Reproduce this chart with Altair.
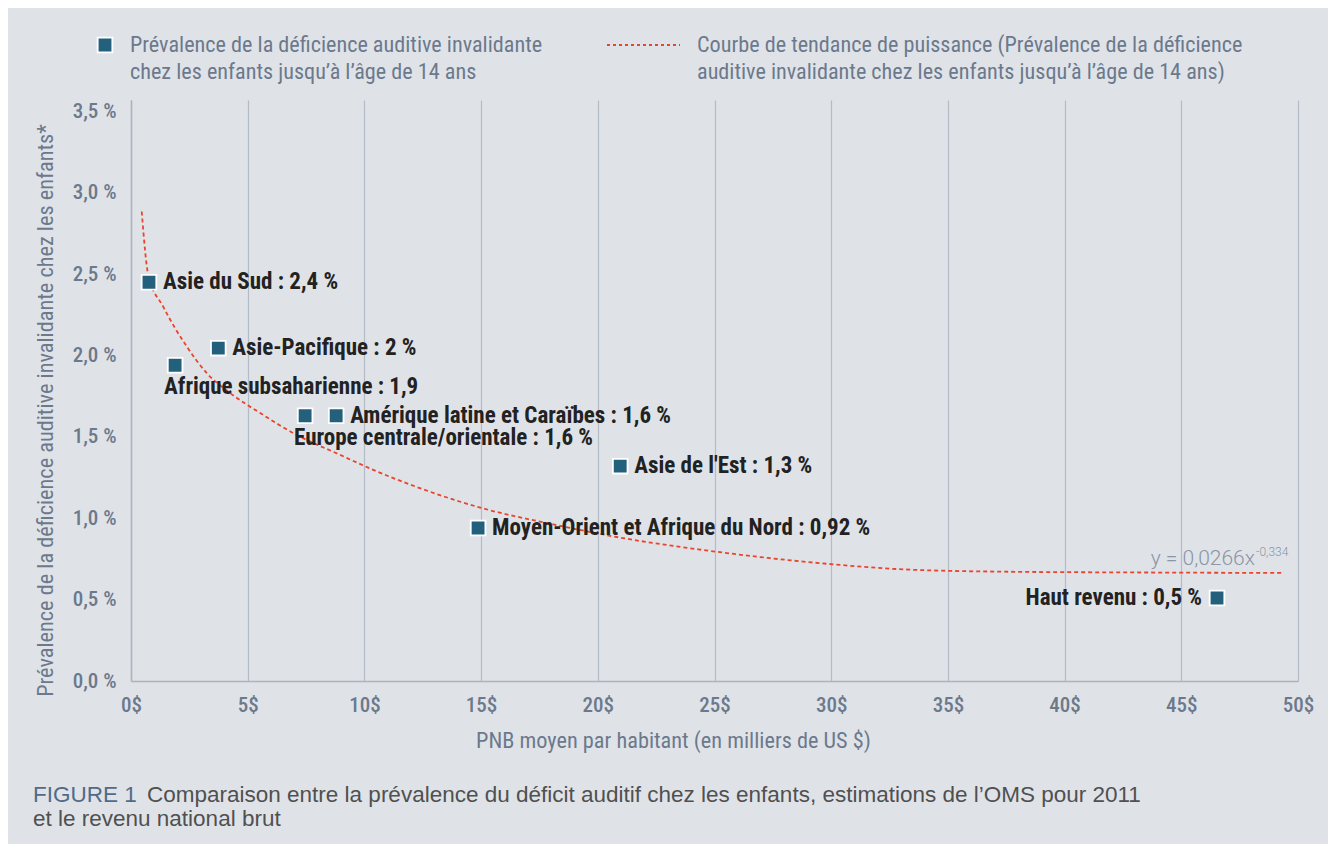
import altair as alt
import pandas as pd

# ---------------- data ----------------
regions = ["Asie du Sud", "Afrique subsaharienne", "Asie-Pacifique",
           "Europe centrale/orientale", "Amérique latine et Caraïbes",
           "Moyen-Orient et Afrique du Nord", "Asie de l'Est", "Haut revenu"]
gnp = [0.77, 1.89, 3.74, 7.46, 8.79, 14.87, 20.96, 46.53]
prevalence = [2.45, 1.94, 2.045, 1.63, 1.63, 0.94, 1.32, 0.51]
labels = ["Asie du Sud : 2,4 %", "Afrique subsaharienne : 1,9", "Asie-Pacifique : 2 %",
          "Europe centrale/orientale : 1,6 %", "Amérique latine et Caraïbes : 1,6 %",
          "Moyen-Orient et Afrique du Nord : 0,92 %", "Asie de l'Est : 1,3 %",
          "Haut revenu : 0,5 %"]

# power trend curve
trend_x = [0.46, 0.74, 1.38, 2.39, 3.24, 4.24, 5.53, 6.94, 8.95, 10.5, 12.0,
           15.1, 18.1, 21.2, 24.3, 27.3, 30.4, 32.8, 37.2, 43.0, 49.4]
trend_y = [2.885, 2.495, 2.30, 2.055, 1.893, 1.770, 1.647, 1.524, 1.39, 1.29, 1.205,
           1.06, 0.962, 0.875, 0.809, 0.756, 0.713, 0.688, 0.672, 0.667, 0.664]

x_ticks = [0, 5, 10, 15, 20, 25, 30, 35, 40, 45, 50]
y_ticks = [0, 0.5, 1.0, 1.5, 2.0, 2.5, 3.0, 3.5]

legend_points = ["Prévalence de la déficience auditive invalidante",
                 "chez les enfants jusqu’à l’âge de 14 ans"]
legend_trend = ["Courbe de tendance de puissance (Prévalence de la déficience",
                "auditive invalidante chez les enfants jusqu’à l’âge de 14 ans)"]
equation = "y = 0,0266x"
equation_exp = "-0,334"
caption_head = "FIGURE 1"
caption_line1 = "Comparaison entre la prévalence du déficit auditif chez les enfants, estimations de l’OMS pour 2011"
caption_line2 = "et le revenu national brut"
x_title = "PNB moyen par habitant (en milliers de US $)"
y_title = "Prévalence de la déficience auditive invalidante chez les enfants*"

# ---------------- styling ----------------
COND = "Roboto Condensed, DejaVu Sans Condensed, sans-serif"
LIGHT = "Roboto, Liberation Sans, sans-serif"
CAP = "Liberation Sans, Roboto, sans-serif"
BG = "#dfe3e8"
GREY = "#6c798c"
RED = "#e8452c"
TEAL = "#22607c"
DARK = "#222222"

pts = pd.DataFrame({"region": regions, "gnp": gnp, "prev": prevalence, "label": labels})
trend = pd.DataFrame({"gnp": trend_x, "prev": trend_y})
one = pd.DataFrame({"k": [0]})

xs = alt.Scale(domain=[0, 50], nice=False)
ys = alt.Scale(domain=[0, 3.57], nice=False)

X = alt.X("gnp:Q", scale=xs, axis=alt.Axis(
    values=x_ticks, labelExpr="datum.value + '$'", title=x_title,
    grid=True, gridColor="#b3bcc6", gridWidth=1.2, ticks=False, labelFlush=False,
    domainColor="#aab4c0", domainWidth=1.5, labelPadding=13,
    titleX=542, titleY=59, titleAlign="center", titleBaseline="middle"))
Y = alt.Y("prev:Q", scale=ys, axis=alt.Axis(
    values=y_ticks, labelExpr="replace(format(datum.value, '.1f'), '.', ',') + ' %'",
    title=y_title, grid=False, ticks=False, domainColor="#aab4c0", domainWidth=1.5,
    labelPadding=15, labelFlush=False, titleX=-86, titleY=310, titleBaseline="middle"))

line = alt.Chart(trend).mark_line(
    color=RED, strokeDash=[4, 3], strokeWidth=1.8, interpolate="monotone"
).encode(x=alt.X("gnp:Q", scale=xs), y=alt.Y("prev:Q", scale=ys))

points = alt.Chart(pts).mark_point(
    shape="square", filled=True, size=215, fill=TEAL, stroke="white",
    strokeWidth=1.8, opacity=1
).encode(x=X, y=Y)

def lab(names, **kw):
    base = dict(font=COND, fontSize=23, fontWeight="bold", color=DARK, baseline="middle")
    base.update(kw)
    return alt.Chart(pts).transform_filter(
        alt.FieldOneOfPredicate(field="region", oneOf=names)
    ).mark_text(**base).encode(
        x=alt.X("gnp:Q", scale=xs), y=alt.Y("prev:Q", scale=ys), text="label:N")

right_labels = lab(["Asie du Sud", "Asie-Pacifique", "Amérique latine et Caraïbes",
                    "Moyen-Orient et Afrique du Nord", "Asie de l'Est"], align="left", dx=14)
below_labels = lab(["Afrique subsaharienne", "Europe centrale/orientale"],
                   align="left", dx=-11, dy=22)
left_labels = lab(["Haut revenu"], align="right", dx=-15)

def ann(text, x, y, **kw):
    return alt.Chart(one).mark_text(**kw).encode(
        x=alt.value(x), y=alt.value(y), text=alt.value(text))

eq = ann(equation, 1124, 459, font=LIGHT, fontSize=21, fontWeight=300,
         color="#8a95a5", align="right", baseline="middle")
eq_exp = ann(equation_exp, 1125, 452, font=LIGHT, fontSize=12, fontWeight=300,
             color="#8a95a5", align="left", baseline="middle")

leg_sq = alt.Chart(one).mark_point(
    shape="square", filled=True, size=215, fill=TEAL, stroke="white",
    strokeWidth=1.8, opacity=1).encode(x=alt.value(-26), y=alt.value(-55))
leg_t1 = ann(legend_points, -1, -48, font=COND, fontSize=22.2, color=GREY,
             align="left", baseline="alphabetic", lineHeight=27)
leg_line = alt.Chart(one).mark_rule(
    color=RED, strokeDash=[3, 3], strokeWidth=1.8
).encode(x=alt.value(476), x2=alt.value(549), y=alt.value(-55))
leg_t2 = ann(legend_trend, 566, -48, font=COND, fontSize=22.2, color=GREY,
             align="left", baseline="alphabetic", lineHeight=27)

cap_h = ann(caption_head, -98, 702, font=CAP, fontSize=22.5, fontWeight=400,
            color="#4f6b88", align="left", baseline="alphabetic")
cap_1 = ann(caption_line1, 16, 702, font=CAP, fontSize=22.5, fontWeight=400,
            color="#505050", align="left", baseline="alphabetic")
cap_2 = ann(caption_line2, -98, 726, font=CAP, fontSize=22.5, fontWeight=400,
            color="#505050", align="left", baseline="alphabetic")

chart = alt.layer(
    line, points, right_labels, below_labels, left_labels, eq, eq_exp,
    leg_sq, leg_t1, leg_line, leg_t2, cap_h, cap_1, cap_2
).properties(
    width=1167, height=581, background=BG,
    padding={"left": 123, "top": 92, "right": 30, "bottom": 163},
    autosize=alt.AutoSizeParams(type="none")
).configure_view(stroke=None).configure_axis(
    labelFont=COND, labelFontSize=21, labelFontWeight=500, labelColor=GREY,
    titleFont=COND, titleFontSize=22.3, titleFontWeight="normal", titleColor=GREY
)

chart.save("out.html", embed_options={"renderer": "svg", "actions": False})
